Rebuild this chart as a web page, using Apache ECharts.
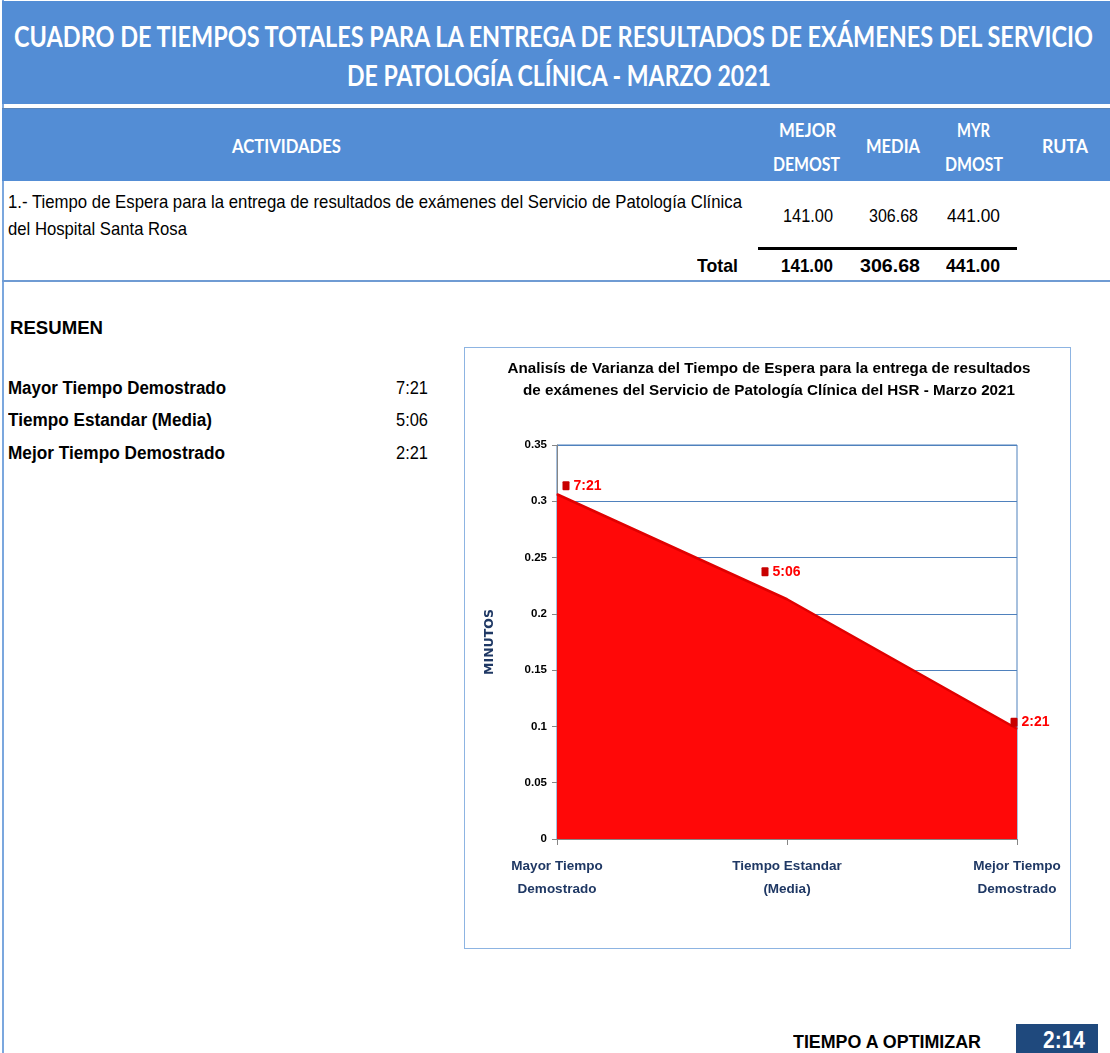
<!DOCTYPE html>
<html><head><meta charset="utf-8">
<script src="https://cdn.jsdelivr.net/npm/echarts@6/dist/echarts.min.js"></script>
<style>
html,body{margin:0;padding:0;}
body{width:1110px;height:1053px;position:relative;overflow:hidden;background:#fff;}
.r{position:absolute;}
.t{position:absolute;white-space:nowrap;transform-origin:0 50%;}
#chart{position:absolute;left:464px;top:347px;width:607px;height:602px;border:1px solid #8DB4E2;box-sizing:border-box;}
</style></head><body>
<div class="r" style="left:2px;top:0;width:2px;height:1053px;background:#7BA7DE"></div>
<div class="r" style="left:2px;top:1px;width:1108px;height:103px;background:#538DD5"></div>
<div class="r" style="left:2px;top:108px;width:1108px;height:1px;background:#5A84B8"></div>
<div class="r" style="left:2px;top:109px;width:1108px;height:72px;background:#538DD5"></div>
<div class="r" style="left:758px;top:247px;width:259px;height:3px;background:#000"></div>
<div class="r" style="left:2px;top:280px;width:1108px;height:2px;background:#6F9BD3"></div>
<div class="r" style="left:1016px;top:1024px;width:82px;height:29px;background:#1F497D"></div>
<div id="chart"></div>
<script>
// ---------- data ----------
const titleLines = ['CUADRO DE TIEMPOS TOTALES PARA LA ENTREGA DE RESULTADOS DE EXÁMENES DEL SERVICIO', 'DE PATOLOGÍA CLÍNICA - MARZO 2021'];
const tableHeaders = ['ACTIVIDADES', 'MEJOR', 'DEMOST', 'MEDIA', 'MYR', 'DMOST', 'RUTA'];
const activityLines = ['1.- Tiempo de Espera para la entrega de resultados de exámenes del Servicio de Patología Clínica', 'del Hospital Santa Rosa'];
const tableValues = [141.00, 306.68, 441.00];      // MEJOR DEMOST, MEDIA, MYR DMOST
const totalValues = [141.00, 306.68, 441.00];
const resumenLabels = ['Mayor Tiempo Demostrado', 'Tiempo Estandar (Media)', 'Mejor Tiempo Demostrado'];
const resumenMinutes = [441.00, 306.68, 141.00];
const chartTitleLines = ['Analisís de Varianza del Tiempo de Espera para la entrega de resultados', 'de exámenes del Servicio de Patología Clínica del HSR - Marzo 2021'];
const categories = ['Mayor Tiempo\nDemostrado', 'Tiempo Estandar\n(Media)', 'Mejor Tiempo\nDemostrado'];
const chartMinutes = [441.00, 306.68, 141.00];
const yAxisName = 'MINUTOS';
const optimizeLabel = 'TIEMPO A OPTIMIZAR';

function hmm(m) { const h = Math.floor(m / 60); const mm = Math.floor(m % 60); return h + ':' + (mm < 10 ? '0' : '') + mm; }
const chartValues = chartMinutes.map(m => m / 1440); // fraction of a day, as on the sheet

// ---------- HTML text (fitted to widths) ----------
function txt(s, xl, xr, yc, fs, fam, w, col) {
  const e = document.createElement('div');
  e.className = 't'; e.textContent = s;
  e.style.font = w + ' ' + fs + 'px ' + fam; e.style.lineHeight = fs + 'px'; e.style.color = col;
  document.body.appendChild(e);
  const nat = e.getBoundingClientRect().width;
  e.style.left = xl + 'px'; e.style.top = (yc - fs / 2) + 'px';
  e.style.transform = 'scaleX(' + ((xr - xl) / nat) + ')';
}
const LATO = 'Lato, sans-serif', ARI = '"Liberation Sans", Arial, sans-serif';
txt(titleLines[0], 14, 1093, 36, 28, LATO, 'bold', '#fff');
txt(titleLines[1], 347, 771, 75, 28, LATO, 'bold', '#fff');
txt(tableHeaders[0], 232, 341, 145, 19, LATO, 'bold', '#fff');
txt(tableHeaders[1], 779, 836, 129, 19, LATO, 'bold', '#fff');
txt(tableHeaders[2], 773, 840, 163, 19, LATO, 'bold', '#fff');
txt(tableHeaders[3], 866, 920, 145, 19, LATO, 'bold', '#fff');
txt(tableHeaders[4], 957, 990, 129, 19, LATO, 'bold', '#fff');
txt(tableHeaders[5], 945, 1003, 163, 19, LATO, 'bold', '#fff');
txt(tableHeaders[6], 1042, 1088, 145, 19, LATO, 'bold', '#fff');
txt(activityLines[0], 8, 742, 202, 18.5, ARI, 'normal', '#000');
txt(activityLines[1], 8, 187, 229, 18.5, ARI, 'normal', '#000');
const colL = [783, 869, 947], colR = [833, 918, 1000];
tableValues.forEach((v, i) => txt(v.toFixed(2), colL[i], colR[i], 216, 18.5, ARI, 'normal', '#000'));
txt('Total', 697, 738, 266, 18.5, ARI, 'bold', '#000');
const colLb = [781, 860, 946], colRb = [833, 920, 1000];
totalValues.forEach((v, i) => txt(v.toFixed(2), colLb[i], colRb[i], 266, 18.5, ARI, 'bold', '#000'));
txt('RESUMEN', 10, 103, 328, 18, ARI, 'bold', '#000');
const rowY = [388, 420, 453];
resumenLabels.forEach((s, i) => {
  const w = [218, 204, 217][i];
  txt(s, 8, 8 + w, rowY[i], 18, ARI, 'bold', '#000');
  txt(hmm(resumenMinutes[i]), 396, 428, rowY[i], 18, ARI, 'normal', '#000');
});
txt(optimizeLabel, 793, 981, 1042, 18.5, ARI, 'bold', '#000');
txt(hmm(resumenMinutes[0] - resumenMinutes[1]), 1043, 1085, 1040, 24, ARI, 'bold', '#fff');

// ---------- chart ----------
const ctx = document.createElement('canvas').getContext('2d');
const titleFont = 'bold 15.5px "Liberation Sans", Arial, sans-serif';
ctx.font = titleFont;
const titleScale = 523 / ctx.measureText(chartTitleLines[0]).width;
const labelOffsets = [[6, -15], [-25, -34], [-6, -13]];
const chart = echarts.init(document.getElementById('chart'));
chart.setOption({
  animation: false,
  graphic: chartTitleLines.map((s, i) => ({
    type: 'text', x: 304, y: 21 + i * 22, scaleX: titleScale,
    style: { text: s, font: titleFont, fill: '#000', align: 'center', verticalAlign: 'middle' }
  })),
  grid: { left: 92, top: 97, width: 460, height: 394, show: true, borderColor: '#4F81BD', borderWidth: 1 },
  xAxis: {
    type: 'category', data: categories, boundaryGap: false,
    axisLine: { lineStyle: { color: '#868686' } },
    axisTick: { show: true, length: 6, lineStyle: { color: '#868686' } },
    axisLabel: { color: '#1F3864', fontFamily: ARI, fontWeight: 'bold', fontSize: 13.5, lineHeight: 23, margin: 16 }
  },
  yAxis: {
    type: 'value', min: 0, max: 0.35, interval: 0.05,
    name: yAxisName, nameLocation: 'middle', nameRotate: 90, nameGap: 61,
    nameTextStyle: { color: '#1F3864', fontFamily: '"DejaVu Sans", sans-serif', fontWeight: 'bold', fontSize: 12.5 },
    axisLine: { show: true, lineStyle: { color: '#868686' } },
    axisTick: { show: true, length: 5, lineStyle: { color: '#868686' } },
    axisLabel: { color: '#000', fontFamily: ARI, fontWeight: 'bold', fontSize: 11.5, margin: 10 },
    splitLine: { lineStyle: { color: '#4F81BD', width: 1 } }
  },
  series: [{
    type: 'line',
    data: chartValues.map((v, i) => ({ value: v, label: { position: labelOffsets[i] } })),
    symbol: 'rect', symbolSize: 1, itemStyle: { color: '#FF0000' },
    lineStyle: { color: '#E00000', width: 2.5 },
    areaStyle: { color: '#FF0808', opacity: 1 },
    label: {
      show: true,
      formatter: p => '{sq|}{t|' + hmm(chartMinutes[p.dataIndex]) + '}',
      rich: {
        sq: { width: 7, height: 9, backgroundColor: '#C80000', borderRadius: 1 },
        t: { color: '#FF0000', fontFamily: ARI, fontWeight: 'bold', fontSize: 14, padding: [0, 0, 0, 4] }
      }
    }
  }]
});
</script>
</body></html>
